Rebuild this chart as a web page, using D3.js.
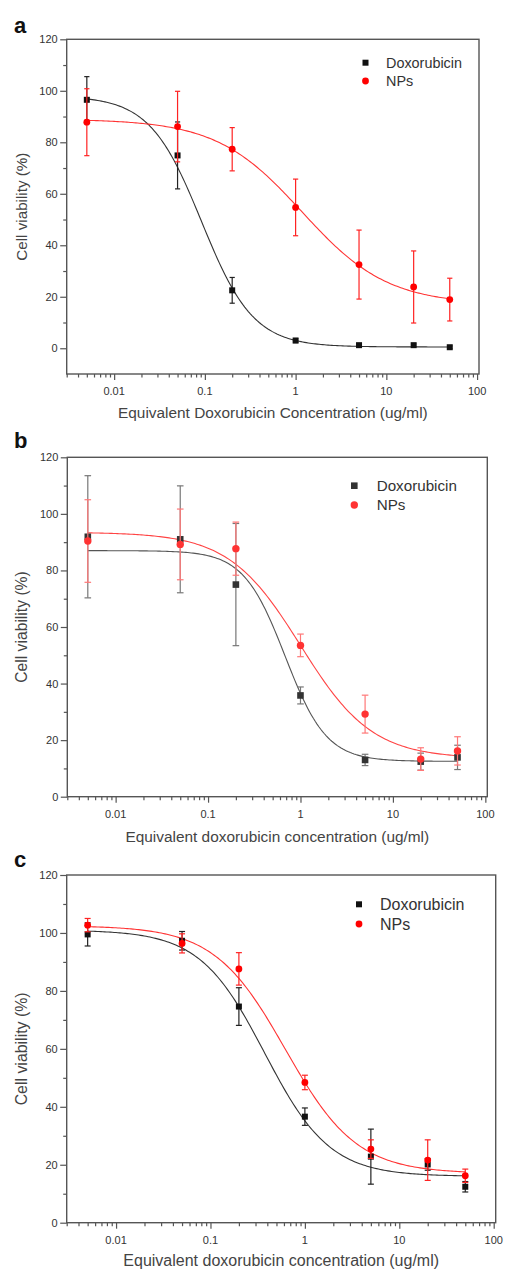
<!DOCTYPE html>
<html><head><meta charset="utf-8">
<script src="https://cdn.jsdelivr.net/npm/d3@7"></script>
<style>body{margin:0;background:#fff}svg{display:block}</style>
</head><body><svg id="chart" width="506" height="1270"></svg>
<script>
// ---------- data ----------
const concentrations = [0.005, 0.05, 0.2, 1, 5, 20, 50];
const xTickValues = [0.01, 0.1, 1, 10, 100];
const xTickLabels = ["0.01", "0.1", "1", "10", "100"];
const yTickValues = [0, 20, 40, 60, 80, 100, 120];
const seriesNames = ["Doxorubicin", "NPs"];
const panelLetters = ["a", "b", "c"];
const xAxisTitles = ["Equivalent Doxorubicin Concentration (ug/ml)",
                     "Equivalent doxorubicin concentration (ug/ml)",
                     "Equivalent doxorubicin concentration (ug/ml)"];
const yAxisTitle = "Cell viability (%)";

// panel a
const doxA    = [96.5, 74.9, 22.5, 3.0, 1.2, 1.2, 0.4];
const doxErrA = [9, 13, 5, 0.8, 0.5, 0.5, 0.5];
const npsA    = [87.8, 86.1, 77.3, 54.7, 32.5, 23.8, 18.9];
const npsErrA = [13, 13.7, 8.4, 11, 13.4, 14, 8.3];
// fitted dose-response: [top, bottom, logIC50, hill slope]
const fitDoxA = [98, 0.5, -1.037, 1.52];
const fitNpsA = [89, 17, 0.07, 0.92];

// panel b
const doxB    = [91.9, 91.0, 75.0, 35.8, 13.0, 12.4, 13.9];
const doxErrB = [21.6, 18.9, 21.6, 3, 2, 3, 4.3];
const npsB    = [90.4, 89.2, 87.7, 53.5, 29.2, 13.3, 16.2];
const npsErrB = [14.6, 12.5, 9.4, 4, 6.7, 4, 5];
const fitDoxB = [87, 12.5, -0.167, 1.93];
const fitNpsB = [93.5, 13.5, 0.0, 1.12];

// panel c
const doxC    = [99.5, 97.3, 74.6, 36.6, 22.8, 20.1, 12.4];
const doxErrC = [4, 3.2, 6.5, 3, 9.5, 2, 1.8];
const npsC    = [102.7, 96.4, 87.6, 48.4, 25.4, 21.6, 16.2];
const npsErrC = [2.3, 3.3, 5.6, 2.5, 3.2, 7, 2.3];
const fitDoxC = [101, 16, -0.425, 1.26];
const fitNpsC = [102.5, 17, -0.205, 1.15];

// ---------- layout / style ----------
const panels = [
  {dox: doxA, doxErr: doxErrA, nps: npsA, npsErr: npsErrA, fitDox: fitDoxA, fitNps: fitNpsA,
   yMin: -10, box: {l: 66.7, r: 479, t: 39.3, b: 374}, letter: {x: 14, y: 33},
   legend: {x: 365.5, y1: 62.7, y2: 81, tx: 386, fs: 14.4},
   tickFs: 11, xTitleFs: 15.4, yTitleFs: 15.2, xTitleY: 418, yTitleX: 27, tickLabelY: 395,
   doxColor: "#111", doxErrColor: "#222", npsColor: "#f00", npsErrColor: "#f22",
   doxLine: "#333", npsLine: "#f33", cap: 2.6, sq: 6, r: 3.4, opacity: 1},
  {dox: doxB, doxErr: doxErrB, nps: npsB, npsErr: npsErrB, fitDox: fitDoxB, fitNps: fitNpsB,
   yMin: 0, box: {l: 67.3, r: 487.3, t: 457.3, b: 796.7}, letter: {x: 14, y: 448},
   legend: {x: 354.3, y1: 485.7, y2: 505, tx: 376.7, fs: 15.2},
   tickFs: 11, xTitleFs: 15.4, yTitleFs: 15.7, xTitleY: 841.5, yTitleX: 27, tickLabelY: 817.5,
   doxColor: "#333", doxErrColor: "#777", npsColor: "#f33", npsErrColor: "#f77",
   doxLine: "#555", npsLine: "#f44", cap: 3.3, sq: 6.6, r: 3.7, opacity: 1},
  {dox: doxC, doxErr: doxErrC, nps: npsC, npsErr: npsErrC, fitDox: fitDoxC, fitNps: fitNpsC,
   yMin: 0, box: {l: 66.7, r: 495.7, t: 875, b: 1222.7}, letter: {x: 14, y: 867},
   legend: {x: 359, y1: 904.3, y2: 924, tx: 380, fs: 16},
   tickFs: 11, xTitleFs: 16, yTitleFs: 15.9, xTitleY: 1265.5, yTitleX: 27, tickLabelY: 1244,
   doxColor: "#111", doxErrColor: "#222", npsColor: "#f00", npsErrColor: "#f22",
   doxLine: "#333", npsLine: "#f33", cap: 3, sq: 6, r: 3.4, opacity: 1}
];

const FONT = "'Liberation Sans', Arial, Helvetica, sans-serif";
const svg = d3.select("#chart");

function logistic(fit) {
  const [top, bottom, x0, p] = fit;
  const lmin = Math.log10(concentrations[0]);
  const lmax = Math.log10(concentrations[concentrations.length - 1]);
  return d3.range(lmin, lmax + 1e-9, (lmax - lmin) / 200)
    .map(l => [Math.pow(10, l), bottom + (top - bottom) / (1 + Math.pow(10, (l - x0) * p))]);
}

panels.forEach((P, i) => {
  const g = svg.append("g");
  const x = d3.scaleLog().domain([0.003, 105]).range([P.box.l, P.box.r]);
  const y = d3.scaleLinear().domain([P.yMin, 120]).range([P.box.b, P.box.t]);

  // panel letter
  g.append("text").attr("x", P.letter.x).attr("y", P.letter.y)
    .attr("font-family", FONT).attr("font-weight", "bold").attr("font-size", 22)
    .attr("fill", "#111").text(panelLetters[i]);

  // x axis ticks (major + minor)
  const minor = [];
  for (let e = -3; e <= 1; e++) for (let m = 2; m <= 9; m++) {
    const v = m * Math.pow(10, e);
    if (v >= 0.003 && v <= 105) minor.push(v);
  }
  const xAxisMinor = d3.axisBottom(x).tickValues(minor).tickSize(3.5).tickFormat("");
  const xAxisMajor = d3.axisBottom(x).tickValues(xTickValues).tickSize(6).tickFormat("");
  [xAxisMinor, xAxisMajor].forEach(ax => {
    const a = g.append("g").attr("transform", `translate(0,${P.box.b})`).call(ax);
    a.select(".domain").remove();
    a.selectAll("line").attr("stroke", "#555").attr("stroke-width", 1.2);
  });
  g.selectAll(".xtl").data(xTickValues).enter().append("text")
    .attr("x", d => x(d)).attr("y", P.tickLabelY).attr("text-anchor", "middle")
    .attr("font-family", FONT).attr("font-size", P.tickFs).attr("fill", "#333")
    .text((d, k) => xTickLabels[k]);

  // y axis ticks
  const yMinor = d3.range(10, 120, 20);
  const yAxisMinor = d3.axisLeft(y).tickValues(yMinor).tickSize(3.5).tickFormat("");
  const yAxisMajor = d3.axisLeft(y).tickValues(yTickValues).tickSize(6.5).tickFormat("");
  [yAxisMinor, yAxisMajor].forEach(ax => {
    const a = g.append("g").attr("transform", `translate(${P.box.l},0)`).call(ax);
    a.select(".domain").remove();
    a.selectAll("line").attr("stroke", "#555").attr("stroke-width", 1.2);
  });
  g.selectAll(".ytl").data(yTickValues).enter().append("text")
    .attr("x", P.box.l - 9).attr("y", d => y(d) + 4).attr("text-anchor", "end")
    .attr("font-family", FONT).attr("font-size", P.tickFs).attr("fill", "#333")
    .text(d => d);

  // frame
  g.append("rect").attr("x", P.box.l).attr("y", P.box.t)
    .attr("width", P.box.r - P.box.l).attr("height", P.box.b - P.box.t)
    .attr("fill", "none").attr("stroke", "#555").attr("stroke-width", 1.4);

  // axis titles
  g.append("text").attr("x", (P.box.l + P.box.r) / 2).attr("y", P.xTitleY)
    .attr("text-anchor", "middle").attr("font-family", FONT).attr("font-size", P.xTitleFs)
    .attr("fill", "#444").text(xAxisTitles[i]);
  g.append("text").attr("transform", `translate(${P.yTitleX},${(P.box.t + P.box.b) / 2}) rotate(-90)`)
    .attr("text-anchor", "middle").attr("font-family", FONT).attr("font-size", P.yTitleFs)
    .attr("fill", "#444").text(yAxisTitle);

  const line = d3.line().x(d => x(d[0])).y(d => y(d[1]));
  const plot = g.append("g");

  // fitted curves
  plot.append("path").attr("d", line(logistic(P.fitDox))).attr("fill", "none")
    .attr("stroke", P.doxLine).attr("stroke-width", 1.1);
  plot.append("path").attr("d", line(logistic(P.fitNps))).attr("fill", "none")
    .attr("stroke", P.npsLine).attr("stroke-width", 1.1);

  function errorBars(vals, errs, color) {
    const eg = plot.append("g").attr("stroke", color).attr("stroke-width", 1.2);
    concentrations.forEach((c, k) => {
      const cx = x(c), y1 = y(vals[k] + errs[k]), y2 = y(vals[k] - errs[k]);
      eg.append("line").attr("x1", cx).attr("x2", cx).attr("y1", y1).attr("y2", y2);
      eg.append("line").attr("x1", cx - P.cap).attr("x2", cx + P.cap).attr("y1", y1).attr("y2", y1);
      eg.append("line").attr("x1", cx - P.cap).attr("x2", cx + P.cap).attr("y1", y2).attr("y2", y2);
    });
  }
  // doxorubicin
  errorBars(P.dox, P.doxErr, P.doxErrColor);
  plot.selectAll(".sq").data(concentrations).enter().append("rect")
    .attr("x", d => x(d) - P.sq / 2).attr("y", (d, k) => y(P.dox[k]) - P.sq / 2)
    .attr("width", P.sq).attr("height", P.sq).attr("fill", P.doxColor);
  // NPs
  errorBars(P.nps, P.npsErr, P.npsErrColor);
  plot.selectAll(".ci").data(concentrations).enter().append("circle")
    .attr("cx", d => x(d)).attr("cy", (d, k) => y(P.nps[k])).attr("r", P.r)
    .attr("fill", P.npsColor);

  // legend
  const L = P.legend;
  g.append("rect").attr("x", L.x - P.sq / 2).attr("y", L.y1 - P.sq / 2)
    .attr("width", P.sq).attr("height", P.sq).attr("fill", P.doxColor);
  g.append("circle").attr("cx", L.x).attr("cy", L.y2).attr("r", P.r).attr("fill", P.npsColor);
  [L.y1, L.y2].forEach((yy, k) => {
    g.append("text").attr("x", L.tx).attr("y", yy + L.fs * 0.36)
      .attr("font-family", FONT).attr("font-size", L.fs).attr("fill", "#333")
      .text(seriesNames[k]);
  });
});
</script></body></html>
